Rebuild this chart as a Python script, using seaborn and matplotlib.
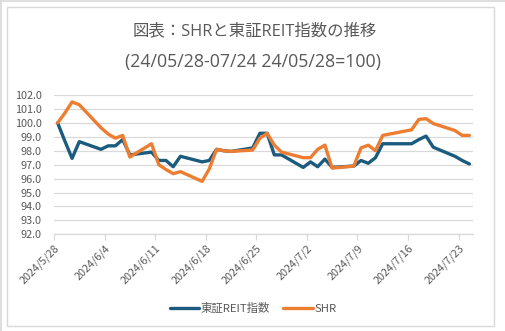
import matplotlib
matplotlib.use("Agg")
import matplotlib.pyplot as plt
from matplotlib.patches import Rectangle
from matplotlib.lines import Line2D
import numpy as np
import pandas as pd
import seaborn as sns

# ---- data ----
trade_dates = [
    "2024-05-28", "2024-05-29", "2024-05-30", "2024-05-31",
    "2024-06-03", "2024-06-04", "2024-06-05", "2024-06-06", "2024-06-07",
    "2024-06-10", "2024-06-11", "2024-06-12", "2024-06-13", "2024-06-14",
    "2024-06-17", "2024-06-18", "2024-06-19", "2024-06-20", "2024-06-21",
    "2024-06-24", "2024-06-25", "2024-06-26", "2024-06-27", "2024-06-28",
    "2024-07-01", "2024-07-02", "2024-07-03", "2024-07-04", "2024-07-05",
    "2024-07-08", "2024-07-09", "2024-07-10", "2024-07-11", "2024-07-12",
    "2024-07-16", "2024-07-17", "2024-07-18", "2024-07-19",
    "2024-07-22", "2024-07-23", "2024-07-24",
]
reit = [100.0, 98.7, 97.45, 98.65,
        98.1, 98.35, 98.35, 98.8, 97.7,
        97.9, 97.3, 97.3, 96.85, 97.6,
        97.2, 97.3, 98.1, 98.0, 97.95,
        98.2, 99.25, 99.25, 97.7, 97.7,
        96.8, 97.2, 96.85, 97.4, 96.8,
        96.9, 97.3, 97.1, 97.5, 98.5,
        98.5, 98.8, 99.05, 98.25,
        97.6, 97.3, 97.05]
shr = [100.0, 100.7, 101.5, 101.3,
       99.65, 99.2, 98.9, 99.1, 97.55,
       98.5, 97.0, 96.65, 96.35, 96.5,
       95.8, 96.7, 98.1, 98.0, 97.95,
       98.05, 98.9, 99.25, 98.4, 97.9,
       97.5, 97.5, 98.1, 98.4, 96.75,
       96.9, 98.2, 98.4, 98.0, 99.1,
       99.5, 100.25, 100.3, 99.95,
       99.45, 99.1, 99.1]
series_names = ["東証REIT指数", "SHR"]
series_colors = ["#1b5b7e", "#ed7d31"]
tick_dates = ["2024-05-28", "2024-06-04", "2024-06-11", "2024-06-18", "2024-06-25",
              "2024-07-02", "2024-07-09", "2024-07-16", "2024-07-23"]
y_ticks = [92.0, 93.0, 94.0, 95.0, 96.0, 97.0, 98.0, 99.0, 100.0, 101.0, 102.0]
title_lines = ["図表：SHRと東証REIT指数の推移", "(24/05/28-07/24 24/05/28=100)"]

# ---- build table ----
dts = pd.to_datetime(trade_dates) + pd.Timedelta(hours=12)  # Excel places points mid-day
df = pd.concat([
    pd.DataFrame({"date": dts, "value": reit, "series": series_names[0]}),
    pd.DataFrame({"date": dts, "value": shr, "series": series_names[1]}),
], ignore_index=True)

sns.set_theme(style="white")
plt.rcParams["font.family"] = ["Noto Sans CJK JP", "DejaVu Sans"]

W, H = 505, 331
fig = plt.figure(figsize=(W / 100, H / 100), dpi=100)
fig.patch.set_facecolor("white")
ax = fig.add_axes([54 / W, 1 - 234.3 / H, (473 - 54) / W, (234.3 - 95) / H])

sns.lineplot(data=df, x="date", y="value", hue="series", hue_order=series_names,
             palette=series_colors, linewidth=2.4, estimator=None, ax=ax, legend=False)

gray = "#595959"
grid = "#d9d9d9"
ax.set_ylim(min(y_ticks), max(y_ticks))
ax.set_yticks(y_ticks)
ax.set_yticklabels([f"{v:.1f}" for v in y_ticks])
ax.set_xlim(pd.Timestamp(tick_dates[0]), pd.Timestamp("2024-07-25"))
tks = pd.to_datetime(tick_dates)
ax.set_xticks(tks)
ax.set_xticklabels([f"{t.year}/{t.month}/{t.day}" for t in tks], rotation=45,
                   ha="right", rotation_mode="anchor")
ax.set_xlabel("")
ax.set_ylabel("")
ax.yaxis.grid(True, color=grid, linewidth=0.9)
ax.xaxis.grid(False)
for s in ["left", "right", "top"]:
    ax.spines[s].set_visible(False)
ax.spines["bottom"].set_color(grid)
ax.spines["bottom"].set_linewidth(0.9)
ax.tick_params(axis="x", colors=gray, labelsize=7.8, length=4, width=0.9,
               color=grid, direction="out", pad=2, bottom=True)
ax.tick_params(axis="y", colors=gray, labelsize=7.8, length=0, pad=9)
for lab in ax.get_xticklabels() + ax.get_yticklabels():
    lab.set_color(gray)

# titles
fig.text(255 / W, 1 - 31 / H, title_lines[0], ha="center", va="center", fontsize=11.8,
         color=gray, family=["Open Sans", "Noto Sans CJK JP"])
fig.text(253 / W, 1 - 62 / H, title_lines[1], ha="center", va="center", fontsize=12.8,
         color=gray, family=["Open Sans", "Noto Sans CJK JP"])

# legend
handles = [Line2D([0], [0], color=c, linewidth=2.4) for c in series_colors]
fig.legend(handles, series_names, loc="center", bbox_to_anchor=(253 / W, 1 - 308 / H),
           ncol=2, frameon=False, fontsize=8.2, handlelength=2.6, handletextpad=0.1,
           columnspacing=1.2, labelcolor=gray)

# chart area border and outer frame
fig.patches.append(Rectangle((6.5 / W, 1 - 325.5 / H), (494 - 6.5) / W, (325.5 - 6.5) / H,
                             transform=fig.transFigure, fill=False, edgecolor=grid, linewidth=1))
fig.lines.append(Line2D([0.5 / W, 0.5 / W], [0, 1], transform=fig.transFigure, color=grid, linewidth=1.2))
fig.lines.append(Line2D([0, 1], [1 - 0.5 / H, 1 - 0.5 / H], transform=fig.transFigure, color=grid, linewidth=1.2))

fig.savefig("out.png", dpi=100, facecolor="white")
